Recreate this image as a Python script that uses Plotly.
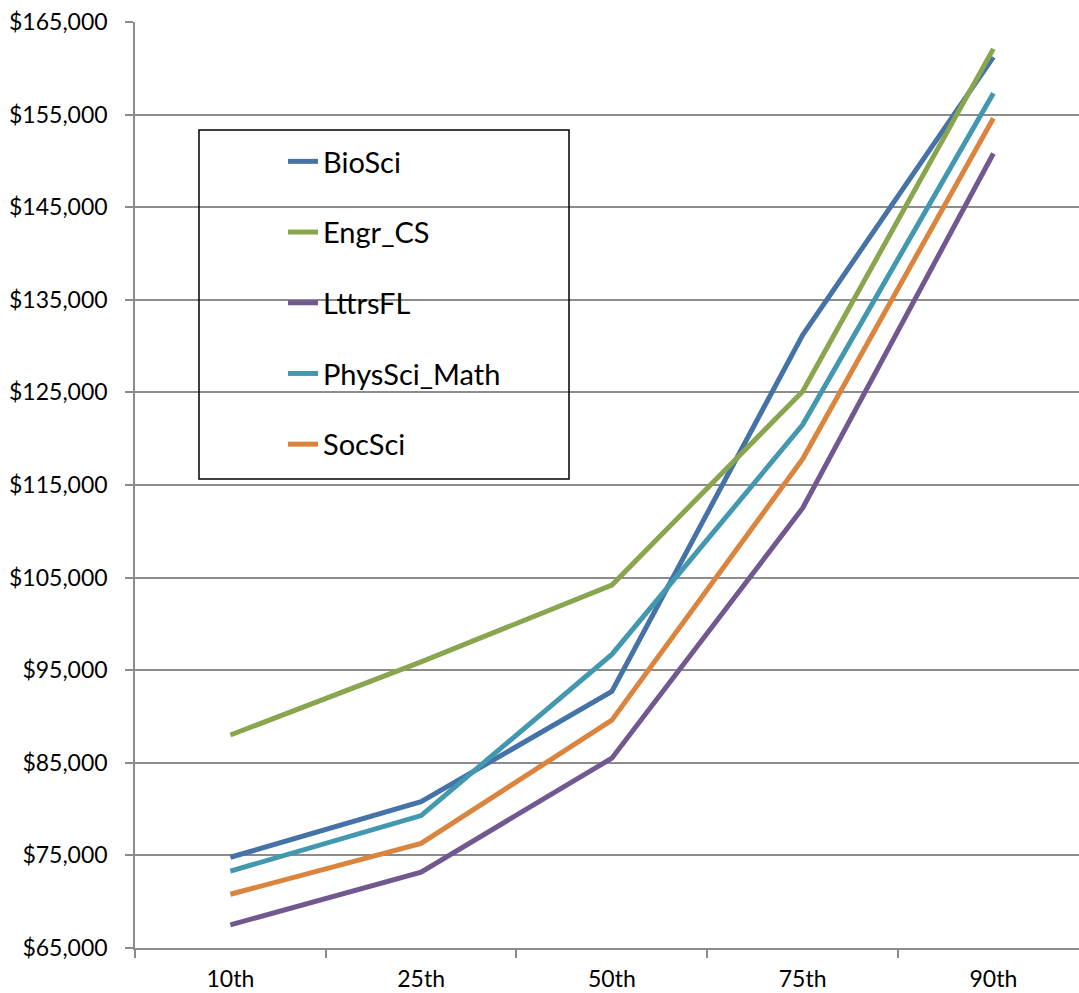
import plotly.graph_objects as go

# Salary percentiles by field
percentiles = ["10th", "25th", "50th", "75th", "90th"]

bio_sci = [74800, 80800, 92700, 131200, 161200]
engr_cs = [88000, 95900, 104200, 125100, 162100]
lttrs_fl = [67500, 73200, 85500, 112500, 150800]
physsci_math = [73300, 79300, 96700, 121500, 157300]
soc_sci = [70800, 76300, 89600, 117800, 154600]

series = [
    ("BioSci", bio_sci, "#4572A7"),
    ("Engr_CS", engr_cs, "#89A54E"),
    ("LttrsFL", lttrs_fl, "#71588F"),
    ("PhysSci_Math", physsci_math, "#4198AF"),
    ("SocSci", soc_sci, "#DB843D"),
]

FONT = "Lato, 'Open Sans', sans-serif"
GRID = "#8c8c8c"

fig = go.Figure()
for i, (name, vals, color) in enumerate(series):
    fig.add_trace(go.Scatter(
        x=percentiles, y=vals, name=name, mode="lines",
        line=dict(color=color, width=5),
        legendgroup=f"g{i}",
    ))

W, H = 1079, 993
ML, MR, MT, MB = 135, 0, 22, 45
pw, ph = W - ML - MR, H - MT - MB


def px_x(p):
    return (p - ML) / pw


def px_y(p):
    return (H - MB - p) / ph


fig.update_layout(
    width=W, height=H,
    margin=dict(l=ML, r=MR, t=MT, b=MB, pad=0),
    paper_bgcolor="white", plot_bgcolor="white",
    font=dict(family=FONT, size=22, color="black"),
    showlegend=True,
    legend=dict(
        x=px_x(283), y=px_y(136), xanchor="left", yanchor="top",
        bgcolor="rgba(0,0,0,0)", borderwidth=0,
        font=dict(family=FONT, size=29, color="black"),
        tracegroupgap=30, traceorder="grouped",
    ),
    shapes=[dict(
        type="rect", xref="paper", yref="paper",
        x0=px_x(199), x1=px_x(569), y0=px_y(479), y1=px_y(130),
        line=dict(color="black", width=1.5), fillcolor="rgba(0,0,0,0)",
        layer="above",
    )],
    xaxis=dict(
        type="category", range=[-0.5, (W - ML) / (pw / 4.949) - 0.5],
        showgrid=False, showline=True, linecolor=GRID, linewidth=1.5,
        ticks="outside", ticklen=8, tickcolor=GRID, tickwidth=1.5,
        tickson="boundaries", ticklabelstandoff=10,
        tickfont=dict(family=FONT, size=23, color="black"),
        zeroline=False,
    ),
    yaxis=dict(
        range=[65000, 165000], dtick=10000, tick0=65000,
        tickformat="$,.0f",
        showgrid=True, gridcolor=GRID, gridwidth=1.5,
        showline=True, linecolor=GRID, linewidth=1.5,
        ticks="outside", ticklen=8, tickcolor=GRID, tickwidth=1.5,
        ticklabelstandoff=13,
        tickfont=dict(family=FONT, size=23, color="black"),
        zeroline=False,
    ),
)

fig.write_html("out.html")
